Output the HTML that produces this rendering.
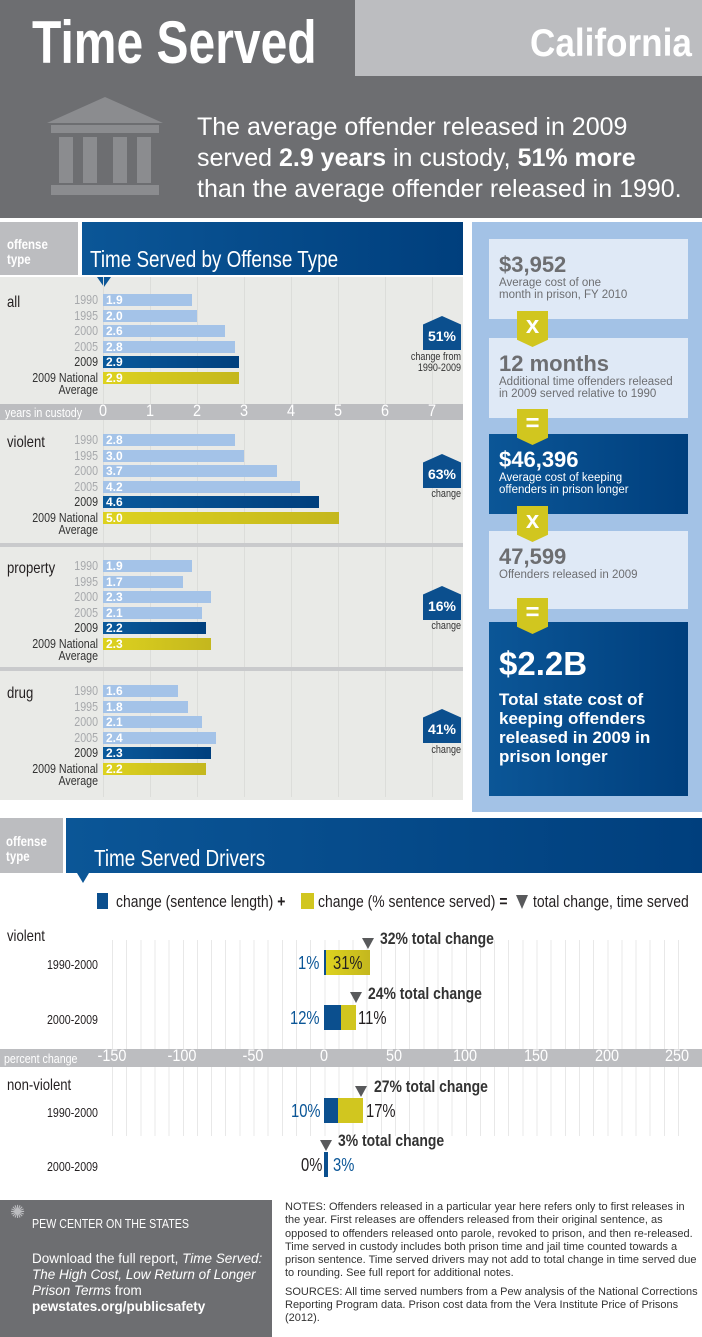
<!DOCTYPE html>
<html><head><meta charset="utf-8"><style>
*{margin:0;padding:0;box-sizing:border-box}
body{width:702px;height:1337px;position:relative;background:#fff;font-family:"Liberation Sans",sans-serif;overflow:hidden}
.a{position:absolute}
.n{transform:scaleX(.82);transform-origin:0 0;white-space:nowrap}
.bar{position:absolute;height:12px;color:#fff;font-weight:bold;font-size:12px;line-height:12px;padding-left:3px}
.l{background:#a4c3e8}.d{background:linear-gradient(90deg,#0a5a9c,#003f7d)}.y{background:linear-gradient(90deg,#ddd21f,#c4b71e)}
.yr{position:absolute;left:0;width:98px;text-align:right;font-size:13px;line-height:12px;color:#a7a9ac;transform-origin:98px 0 !important}
.yr.k{color:#333}
.cat{position:absolute;left:7px;font-size:16px;color:#231f20}
.badge{position:absolute;width:38px;height:34px;background:#0b4f8e;color:#fff;font-weight:bold;font-size:14px;text-align:center;line-height:40px;clip-path:polygon(0 25%,50% 0,100% 25%,100% 100%,0 100%)}
.bl{position:absolute;font-size:11px;color:#333;text-align:right;line-height:11px;transform-origin:100% 0 !important}
.box{position:absolute;left:489px;width:199px;background:#dfe9f6;padding:13px 10px 0 10px;color:#6d6e71}
.box b{font-size:22px;display:block;line-height:25px}
.box span{font-size:11.5px;line-height:12px;display:block}
.box.dk{background:linear-gradient(90deg,#0b5697,#003f7d);color:#fff}
.con{position:absolute;left:517px;width:31px;height:36px;background:#d1c61f;color:#fff;font-weight:bold;font-size:24px;text-align:center;line-height:30px;clip-path:polygon(0 0,100% 0,100% 80%,50% 100%,0 80%)}
.tick{position:absolute;color:#fff;font-size:17px;text-align:center;width:40px;transform:scaleX(.85)}
.drv{position:absolute;height:25px}
.tri{position:absolute;width:0;height:0;border-left:6px solid transparent;border-right:6px solid transparent;border-top:11px solid #58595b}
</style></head><body>
<!-- header -->
<div class="a" style="left:0;top:0;width:702px;height:218px;background:#6d6e71"></div>
<div class="a" style="left:355px;top:0;width:347px;height:76px;background:#bcbdc0"></div>
<div class="a n" style="left:32px;top:8px;font-size:60px;font-weight:bold;color:#fff;transform:scaleX(.8)">Time Served</div>
<div class="a n" style="left:530px;top:22px;font-size:39px;font-weight:bold;color:#fff;transform:scaleX(.9)">California</div>
<svg class="a" style="left:45px;top:95px" width="120" height="105" viewBox="0 0 120 105">
<polygon points="60,2 118,28 2,28" fill="#8b8c8f"/><rect x="6" y="30" width="108" height="8" fill="#8b8c8f"/>
<rect x="14" y="42" width="14" height="46" fill="#8b8c8f"/><rect x="38" y="42" width="14" height="46" fill="#8b8c8f"/><rect x="68" y="42" width="14" height="46" fill="#8b8c8f"/><rect x="92" y="42" width="14" height="46" fill="#8b8c8f"/>
<rect x="6" y="90" width="108" height="10" fill="#8b8c8f"/></svg>
<div class="a" style="left:197px;top:112px;font-size:25px;line-height:31px;color:#fff">The average offender released in 2009<br>served <b>2.9 years</b> in custody, <b>51% more</b><br>than the average offender released in 1990.</div>

<!-- section 1 -->
<div class="a" style="left:0;top:222px;width:78px;height:53px;background:#bcbdc0"></div>
<div class="a n" style="left:7px;top:237px;font-size:14px;color:#fff;line-height:15px;font-weight:bold">offense<br>type</div>
<div class="a" style="left:82px;top:222px;width:381px;height:53px;background:linear-gradient(90deg,#0b5697,#003f7d)"></div>
<div class="a n" style="left:90px;top:246px;font-size:23px;color:#fff">Time Served by Offense Type</div>
<div class="a" style="left:0;top:277px;width:463px;height:523px;background:#e9eae7"></div>
<div class="tri" style="left:97px;top:277px;border-top-color:#0b5697;border-left-width:7px;border-right-width:7px;border-top-width:10px"></div>
<div class="a" style="left:103px;top:277px;width:340px;height:520px;background:repeating-linear-gradient(90deg,#dcddda 0,#dcddda 1px,transparent 1px,transparent 47px)"></div>
<div class="a" style="left:0;top:404px;width:463px;height:16px;background:#bcbdc0"></div>
<div class="a n" style="left:5px;top:405px;font-size:13px;color:#fff">years in custody</div>
<div class="tick" style="left:83px;top:401px">0</div><div class="tick" style="left:130px;top:401px">1</div><div class="tick" style="left:177px;top:401px">2</div><div class="tick" style="left:224px;top:401px">3</div><div class="tick" style="left:271px;top:401px">4</div><div class="tick" style="left:318px;top:401px">5</div><div class="tick" style="left:365px;top:401px">6</div><div class="tick" style="left:412px;top:401px">7</div>
<div class="a" style="left:0;top:543px;width:463px;height:4px;background:#c9cacc"></div>
<div class="a" style="left:0;top:667px;width:463px;height:4px;background:#c9cacc"></div>

<div class="cat n" style="top:294px">all</div>
<div class="yr n" style="top:294px">1990</div><div class="bar l" style="left:103px;top:294px;width:89px">1.9</div>
<div class="yr n" style="top:310px">1995</div><div class="bar l" style="left:103px;top:310px;width:94px">2.0</div>
<div class="yr n" style="top:325px">2000</div><div class="bar l" style="left:103px;top:325px;width:122px">2.6</div>
<div class="yr n" style="top:341px">2005</div><div class="bar l" style="left:103px;top:341px;width:132px">2.8</div>
<div class="yr n k" style="top:356px">2009</div><div class="bar d" style="left:103px;top:356px;width:136px">2.9</div>
<div class="yr n k" style="top:372px">2009 National<br>Average</div><div class="bar y" style="left:103px;top:372px;width:136px">2.9</div>
<div class="badge" style="left:423px;top:316px">51%</div><div class="bl n" style="left:380px;top:352px;width:81px">change from<br>1990-2009</div>

<div class="cat n" style="top:434px">violent</div>
<div class="yr n" style="top:434px">1990</div><div class="bar l" style="left:103px;top:434px;width:132px">2.8</div>
<div class="yr n" style="top:450px">1995</div><div class="bar l" style="left:103px;top:450px;width:141px">3.0</div>
<div class="yr n" style="top:465px">2000</div><div class="bar l" style="left:103px;top:465px;width:174px">3.7</div>
<div class="yr n" style="top:481px">2005</div><div class="bar l" style="left:103px;top:481px;width:197px">4.2</div>
<div class="yr n k" style="top:496px">2009</div><div class="bar d" style="left:103px;top:496px;width:216px">4.6</div>
<div class="yr n k" style="top:512px">2009 National<br>Average</div><div class="bar y" style="left:103px;top:512px;width:236px">5.0</div>
<div class="badge" style="left:423px;top:454px">63%</div><div class="bl n" style="left:380px;top:489px;width:81px">change</div>

<div class="cat n" style="top:560px">property</div>
<div class="yr n" style="top:560px">1990</div><div class="bar l" style="left:103px;top:560px;width:89px">1.9</div>
<div class="yr n" style="top:576px">1995</div><div class="bar l" style="left:103px;top:576px;width:80px">1.7</div>
<div class="yr n" style="top:591px">2000</div><div class="bar l" style="left:103px;top:591px;width:108px">2.3</div>
<div class="yr n" style="top:607px">2005</div><div class="bar l" style="left:103px;top:607px;width:99px">2.1</div>
<div class="yr n k" style="top:622px">2009</div><div class="bar d" style="left:103px;top:622px;width:103px">2.2</div>
<div class="yr n k" style="top:638px">2009 National<br>Average</div><div class="bar y" style="left:103px;top:638px;width:108px">2.3</div>
<div class="badge" style="left:423px;top:586px">16%</div><div class="bl n" style="left:380px;top:621px;width:81px">change</div>

<div class="cat n" style="top:685px">drug</div>
<div class="yr n" style="top:685px">1990</div><div class="bar l" style="left:103px;top:685px;width:75px">1.6</div>
<div class="yr n" style="top:701px">1995</div><div class="bar l" style="left:103px;top:701px;width:85px">1.8</div>
<div class="yr n" style="top:716px">2000</div><div class="bar l" style="left:103px;top:716px;width:99px">2.1</div>
<div class="yr n" style="top:732px">2005</div><div class="bar l" style="left:103px;top:732px;width:113px">2.4</div>
<div class="yr n k" style="top:747px">2009</div><div class="bar d" style="left:103px;top:747px;width:108px">2.3</div>
<div class="yr n k" style="top:763px">2009 National<br>Average</div><div class="bar y" style="left:103px;top:763px;width:103px">2.2</div>
<div class="badge" style="left:423px;top:709px">41%</div><div class="bl n" style="left:380px;top:745px;width:81px">change</div>

<!-- right panel -->
<div class="a" style="left:472px;top:222px;width:230px;height:590px;background:#a3c2e6"></div>
<div class="box" style="top:239px;height:80px"><b>$3,952</b><span>Average cost of one<br>month in prison, FY 2010</span></div>
<div class="box" style="top:338px;height:80px"><b>12 months</b><span>Additional time offenders released<br>in 2009 served relative to 1990</span></div>
<div class="box dk" style="top:434px;height:80px"><b>$46,396</b><span>Average cost of keeping<br>offenders in prison longer</span></div>
<div class="box" style="top:531px;height:78px"><b>47,599</b><span>Offenders released in 2009</span></div>
<div class="box dk" style="top:622px;height:174px;padding-top:22px"><b style="font-size:33px;line-height:40px">$2.2B</b><span style="font-size:17px;line-height:19px;font-weight:bold;margin-top:6px">Total state cost of keeping offenders released in 2009 in prison longer</span></div>
<div class="con" style="top:311px">x</div>
<div class="con" style="top:409px">=</div>
<div class="con" style="top:506px">x</div>
<div class="con" style="top:598px">=</div>

<!-- section 2 -->
<div class="a" style="left:0;top:818px;width:63px;height:55px;background:#bcbdc0"></div>
<div class="a n" style="left:6px;top:834px;font-size:14px;color:#fff;line-height:15px;font-weight:bold">offense<br>type</div>
<div class="a" style="left:66px;top:818px;width:636px;height:55px;background:linear-gradient(90deg,#0b5697,#003f7d)"></div>
<div class="a n" style="left:94px;top:845px;font-size:23px;color:#fff">Time Served Drivers</div>
<div class="tri" style="left:77px;top:873px;border-top-color:#0b5697;border-top-width:10px"></div>
<div class="a" style="left:97px;top:893px;width:11px;height:16px;background:#0b4f8e"></div>
<div class="a" style="left:301px;top:893px;width:13px;height:16px;background:#d1c61f"></div>
<div class="tri" style="left:516px;top:895px;border-top-width:14px"></div>
<div class="a n" style="left:116px;top:892px;font-size:17px;color:#231f20">change (sentence length) <b>+</b></div>
<div class="a n" style="left:318px;top:892px;font-size:17px;color:#231f20">change (% sentence served) <b>=</b></div>
<div class="a n" style="left:533px;top:892px;font-size:17px;color:#231f20">total change, time served</div>

<div class="a" style="left:112px;top:940px;width:575px;height:196px;background:repeating-linear-gradient(90deg,#e8e8e8 0,#e8e8e8 1px,transparent 1px,transparent 14.15px)"></div>
<div class="a" style="left:0;top:1049px;width:702px;height:18px;background:#bcbdc0"></div>
<div class="a n" style="left:4px;top:1051px;font-size:13px;color:#fff">percent change</div>
<div class="tick" style="left:92px;top:1046px">-150</div><div class="tick" style="left:162px;top:1046px">-100</div><div class="tick" style="left:233px;top:1046px">-50</div><div class="tick" style="left:304px;top:1046px">0</div><div class="tick" style="left:374px;top:1046px">50</div><div class="tick" style="left:445px;top:1046px">100</div><div class="tick" style="left:516px;top:1046px">150</div><div class="tick" style="left:587px;top:1046px">200</div><div class="tick" style="left:657px;top:1046px">250</div>

<div class="cat n" style="top:928px">violent</div>
<div class="a n" style="left:47px;top:957px;font-size:13px;color:#231f20">1990-2000</div>
<div class="drv" style="left:324px;top:950px;width:2px;background:#0b4f8e"></div>
<div class="drv" style="left:326px;top:950px;width:44px;background:linear-gradient(90deg,#ddd21f,#c4b71e)"></div>
<div class="a n" style="left:298px;top:953px;font-size:18px;color:#0b5697">1%</div>
<div class="a n" style="left:333px;top:953px;font-size:18px;color:#231f20">31%</div>
<div class="tri" style="left:362px;top:938px"></div>
<div class="a n" style="left:380px;top:929px;font-size:17px;font-weight:bold;color:#333">32% total change</div>

<div class="a n" style="left:47px;top:1012px;font-size:13px;color:#231f20">2000-2009</div>
<div class="drv" style="left:324px;top:1005px;width:17px;background:#0b4f8e"></div>
<div class="drv" style="left:341px;top:1005px;width:15px;background:#d1c61f"></div>
<div class="a n" style="left:290px;top:1008px;font-size:18px;color:#0b5697">12%</div>
<div class="a n" style="left:358px;top:1008px;font-size:18px;color:#231f20">11%</div>
<div class="tri" style="left:350px;top:992px"></div>
<div class="a n" style="left:368px;top:984px;font-size:17px;font-weight:bold;color:#333">24% total change</div>

<div class="cat n" style="top:1077px">non-violent</div>
<div class="a n" style="left:47px;top:1105px;font-size:13px;color:#231f20">1990-2000</div>
<div class="drv" style="left:324px;top:1098px;width:14px;background:#0b4f8e"></div>
<div class="drv" style="left:338px;top:1098px;width:25px;background:#d1c61f"></div>
<div class="a n" style="left:291px;top:1101px;font-size:18px;color:#0b5697">10%</div>
<div class="a n" style="left:366px;top:1101px;font-size:18px;color:#231f20">17%</div>
<div class="tri" style="left:355px;top:1086px"></div>
<div class="a n" style="left:374px;top:1077px;font-size:17px;font-weight:bold;color:#333">27% total change</div>

<div class="a n" style="left:47px;top:1159px;font-size:13px;color:#231f20">2000-2009</div>
<div class="drv" style="left:324px;top:1152px;width:4px;background:#0b4f8e"></div>
<div class="a n" style="left:301px;top:1155px;font-size:18px;color:#231f20">0%</div>
<div class="a n" style="left:333px;top:1155px;font-size:18px;color:#0b5697">3%</div>
<div class="tri" style="left:320px;top:1140px"></div>
<div class="a n" style="left:338px;top:1131px;font-size:17px;font-weight:bold;color:#333">3% total change</div>

<!-- footer -->
<div class="a" style="left:0;top:1200px;width:272px;height:137px;background:#6d6e71"></div>
<div class="a" style="left:10px;top:1202px;font-size:18px;color:#bcbdc0">✺</div>
<div class="a n" style="left:32px;top:1216px;font-size:13px;color:#fff">PEW CENTER ON THE STATES</div>
<div class="a" style="left:32px;top:1251px;width:235px;font-size:13.5px;line-height:16px;color:#fff">Download the full report, <i>Time Served: The High Cost, Low Return of Longer Prison Terms</i> from<br><b>pewstates.org/publicsafety</b></div>
<div class="a" style="left:285px;top:1201px;width:415px;font-size:11px;line-height:13.3px;color:#333">NOTES: Offenders released in a particular year here refers only to first releases in the year. First releases are offenders released from their original sentence, as opposed to offenders released onto parole, revoked to prison, and then re-released. Time served in custody includes both prison time and jail time counted towards a prison sentence. Time served drivers may not add to total change in time served due to rounding. See full report for additional notes.<div style="height:5px"></div>SOURCES: All time served numbers from a Pew analysis of the National Corrections Reporting Program data. Prison cost data from the Vera Institute Price of Prisons (2012).</div>
</body></html>
